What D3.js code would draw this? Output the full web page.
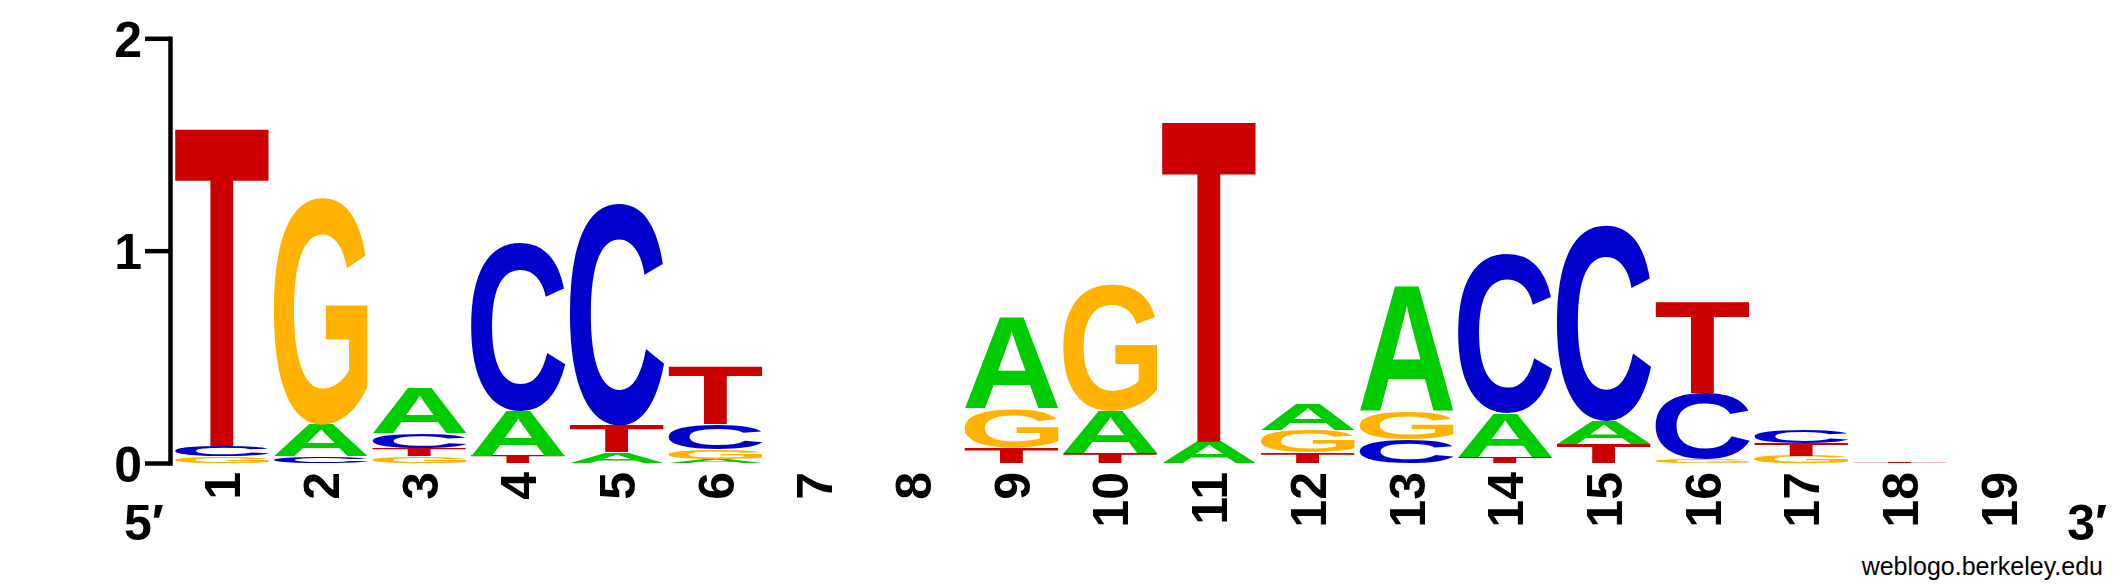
<!DOCTYPE html>
<html>
<head>
<meta charset="utf-8">
<script src="https://cdn.jsdelivr.net/npm/d3@7"></script>
<style>
  body { margin: 0; background: #fff; }
</style>
</head>
<body>
<svg id="logo"></svg>
<script>
// positions along the sequence
var positions = d3.range(1, 20);

// information content (bits) per base, one value per position
var bitsA = [0, 0.15, 0.213, 0.21, 0.05, 0.02, 0, 0, 0.43, 0.2, 0.1, 0.122, 0.588, 0.207, 0.108, 0, 0, 0, 0];
var bitsC = [0.05, 0.03, 0.07, 0.795, 1.045, 0.12, 0, 0, 0, 0, 0, 0, 0.113, 0.753, 0.922, 0.31, 0.062, 0, 0];
var bitsG = [0.03, 1.07, 0.033, 0, 0, 0.045, 0, 0, 0.18, 0.595, 0, 0.105, 0.127, 0, 0, 0.019, 0.035, 0, 0];
var bitsT = [1.505, 0, 0.038, 0.033, 0.127, 0.27, 0, 0, 0.075, 0.047, 1.517, 0.05, 0, 0.028, 0.09, 0.433, 0.058, 0.004, 0];

var yTicks = [0, 1, 2];

var baseColor = { A: "#00cc00", C: "#0000cc", G: "#ffb300", T: "#cc0000" };
var fontFamily = "'Liberation Sans', Arial, Helvetica, sans-serif";

var svgWidth = 2125;
var svgHeight = 588;

var svg = d3.select("#logo")
  .attr("width", svgWidth)
  .attr("height", svgHeight);

var x = d3.scaleBand()
  .domain(positions)
  .range([172.8, 2048.1])
  .paddingInner(0.045)
  .paddingOuter(0.0225);

var y = d3.scaleLinear()
  .domain([0, 2])
  .range([463, 38.3]);

// measure the ink box of each letter so a glyph can be stretched to fill its cell
var ctx = document.createElement("canvas").getContext("2d");
ctx.font = "bold 200px " + fontFamily;
var glyph = {};
["A", "C", "G", "T"].forEach(function(ch) {
  var m = ctx.measureText(ch);
  glyph[ch] = {
    left: m.actualBoundingBoxLeft,
    right: m.actualBoundingBoxRight,
    ascent: m.actualBoundingBoxAscent,
    descent: m.actualBoundingBoxDescent
  };
});

// build the stacks, smallest letter at the bottom
var letters = [];
positions.forEach(function(pos, i) {
  var stack = [
    { base: "A", bits: bitsA[i] },
    { base: "C", bits: bitsC[i] },
    { base: "G", bits: bitsG[i] },
    { base: "T", bits: bitsT[i] }
  ].filter(d => d.bits > 0)
   .sort((a, b) => a.bits - b.bits);
  var acc = 0;
  stack.forEach(function(d) {
    letters.push({ pos: pos, base: d.base, y0: acc, y1: acc + d.bits });
    acc += d.bits;
  });
});

var letterGroup = svg.append("g");

letterGroup.selectAll("text")
  .data(letters)
  .enter()
  .append("text")
  .text(d => d.base)
  .attr("font-family", fontFamily)
  .attr("font-weight", "bold")
  .attr("font-size", 200)
  .attr("fill", d => baseColor[d.base])
  .attr("transform", function(d) {
    var g = glyph[d.base];
    var bx = x(d.pos);
    var by = y(d.y1);
    var sx = x.bandwidth() / (g.left + g.right);
    var sy = (y(d.y0) - y(d.y1)) / (g.ascent + g.descent);
    return `translate(${bx},${by}) scale(${sx},${sy}) translate(${g.left},${g.ascent})`;
  });

// y axis
var leftAxis = d3.axisLeft(y)
  .tickValues(yTicks)
  .tickSize(25)
  .tickSizeOuter(0)
  .tickPadding(3)
  .tickFormat(d3.format("d"));

var yAxis = svg.append("g")
  .attr("transform", "translate(170,0)")
  .call(leftAxis);

yAxis.select(".domain")
  .attr("stroke-width", 4.5)
  .attr("stroke-linecap", "square");
yAxis.selectAll(".tick line")
  .attr("stroke-width", 4.5);
yAxis.selectAll(".tick text")
  .attr("font-family", fontFamily)
  .attr("font-weight", "bold")
  .attr("font-size", 50)
  .attr("dy", "0.36em")
  .attr("fill", "#000");

// x axis: position numbers, rotated
var bottomAxis = d3.axisBottom(x).tickSize(0);

var xAxis = svg.append("g")
  .attr("transform", "translate(0,463)")
  .call(bottomAxis);

xAxis.select(".domain").remove();
xAxis.selectAll(".tick text")
  .attr("font-family", fontFamily)
  .attr("font-weight", "bold")
  .attr("font-size", 50)
  .attr("fill", "#000")
  .attr("text-anchor", "end")
  .attr("transform", "rotate(-90)")
  .attr("x", -9)
  .attr("y", 18)
  .attr("dy", 0);

// strand ends
svg.append("text")
  .attr("x", 124)
  .attr("y", 540)
  .attr("font-family", fontFamily)
  .attr("font-weight", "bold")
  .attr("font-size", 50)
  .text("5\u2032");

svg.append("text")
  .attr("x", 2107)
  .attr("y", 540)
  .attr("text-anchor", "end")
  .attr("font-family", fontFamily)
  .attr("font-weight", "bold")
  .attr("font-size", 50)
  .text("3\u2032");

svg.append("text")
  .attr("x", 2103)
  .attr("y", 575)
  .attr("text-anchor", "end")
  .attr("font-family", fontFamily)
  .attr("font-size", 25)
  .text("weblogo.berkeley.edu");
</script>
</body>
</html>
